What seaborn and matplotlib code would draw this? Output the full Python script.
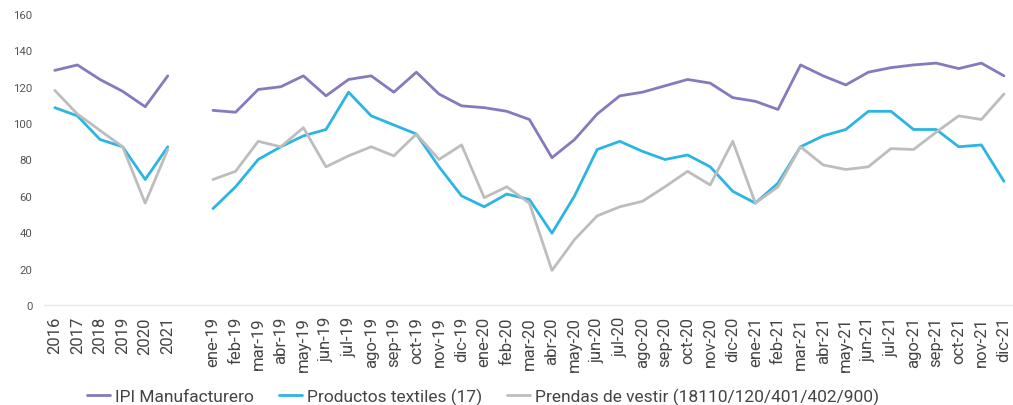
import numpy as np
import pandas as pd
import matplotlib
matplotlib.use("Agg")
import matplotlib.pyplot as plt
import seaborn as sns
from matplotlib.lines import Line2D

years = ["2016", "2017", "2018", "2019", "2020", "2021"]
months = ["ene", "feb", "mar", "abr", "may", "jun", "jul", "ago", "sep", "oct", "nov", "dic"]
month_labels = [f"{m}-{y}" for y in ["19", "20", "21"] for m in months]

ipi_annual = [129, 132, 124, 117.5, 109, 126]
textil_annual = [108.5, 104, 91, 87, 69, 87]
prendas_annual = [118, 105, 96, 87, 56, 85.5]

ipi_monthly = [107, 106, 118.5, 120, 126, 115, 124, 126, 117, 128, 116, 109.5,
               108.5, 106.5, 102, 81, 91, 105, 115, 117, 120.5, 124, 122, 114,
               112, 107.5, 132, 126, 121, 128, 130.5, 132, 133, 130, 133, 126]
textil_monthly = [53, 65, 80, 87, 93, 96.5, 117, 104, 99, 94, 76, 60,
                  54, 61, 58, 39.5, 60, 85.5, 90, 84.5, 80, 82.5, 76, 62.5,
                  56, 67, 87, 93, 96.5, 106.5, 106.5, 96.5, 96.5, 87, 88, 68]
prendas_monthly = [69, 73.5, 90, 87, 97.5, 76, 82, 87, 82, 94, 80, 88,
                   59, 65, 56, 19, 36, 49, 54, 57, 65, 73.5, 66, 90,
                   56, 65, 87, 77, 74.5, 76, 86, 85.5, 95, 104, 102, 116]

series_names = ["IPI Manufacturero", "Productos textiles (17)",
                "Prendas de vestir (18110/120/401/402/900)"]
colors = ["#8878BE", "#2CB5E2", "#BDBDBD"]

n_y = len(years)
year_pos = list(range(n_y))
month_pos = [n_y + 1 + i for i in range(len(month_labels))]

rows = []
for name, ann, mon in zip(series_names,
                          [ipi_annual, textil_annual, prendas_annual],
                          [ipi_monthly, textil_monthly, prendas_monthly]):
    for p, v in zip(year_pos, ann):
        rows.append({"pos": p, "value": v, "serie": name, "seg": 0})
    for p, v in zip(month_pos, mon):
        rows.append({"pos": p, "value": v, "serie": name, "seg": 1})
df = pd.DataFrame(rows)

sns.set_theme(style="white")
plt.rcParams["font.family"] = ["Roboto", "DejaVu Sans"]

fig = plt.figure(figsize=(10.13, 4.06), dpi=100)
ax = fig.add_axes([43.5 / 1013, 1 - 306 / 406, 1 - 43.5 / 1013, 291 / 406])

sns.lineplot(data=df, x="pos", y="value", hue="serie", units="seg",
             estimator=None, palette=dict(zip(series_names, colors)),
             hue_order=series_names, linewidth=2.0, ax=ax, legend=False)

ax.set_xlim(-0.5, month_pos[-1] + 0.4)
ax.set_ylim(0, 160)
ax.set_yticks(range(0, 161, 20))
ax.tick_params(axis="y", labelsize=8.2, colors="#555555", length=0, pad=8)
ax.set_xticks(year_pos + month_pos)
ax.set_xticklabels(years + month_labels, rotation=90, fontsize=12, color="#444444")
ax.tick_params(axis="x", length=0, pad=8)
ax.set_xlabel("")
ax.set_ylabel("")
for s in ["top", "right", "left"]:
    ax.spines[s].set_visible(False)
ax.spines["bottom"].set_color("#E6E6E6")
ax.spines["bottom"].set_linewidth(1)
ax.grid(False)

handles = [Line2D([], [], color=c, linewidth=2.0) for c in colors]
fig.legend(handles, series_names, loc="center", bbox_to_anchor=(483 / 1013, 1 - 397 / 406),
           ncol=3, frameon=False, fontsize=12.5, handlelength=1.3, handletextpad=0.3,
           columnspacing=1.45, labelcolor="#444444", borderaxespad=0, borderpad=0)

fig.savefig("out.png", dpi=100)
